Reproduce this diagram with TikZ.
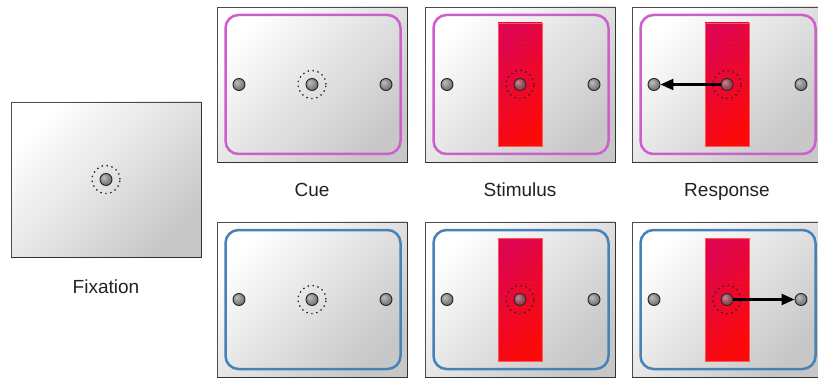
\documentclass[tikz,border=0pt]{standalone}
\usepackage{fontspec}
\setmainfont{Liberation Sans}
\usetikzlibrary{arrows.meta}
\definecolor{cueA}{HTML}{CC5FCC}
\definecolor{cueB}{HTML}{4682B6}
\definecolor{barTL}{HTML}{E2064F}
\definecolor{barBR}{HTML}{FF0A0A}
\definecolor{txt}{HTML}{222222}
\definecolor{dotredA}{HTML}{C88A96}
\definecolor{dotredB}{HTML}{9C4E5E}
\definecolor{dotredC}{HTML}{7A3444}
% flat grey target disc, lit from the upper left
\pgfdeclareradialshading{flatdot}{\pgfpoint{-10bp}{10bp}}{%
  color(0bp)=(black!25); color(18bp)=(black!45); color(35bp)=(black!62); color(60bp)=(black!70)}
\pgfdeclareradialshading{flatdotred}{\pgfpoint{-10bp}{10bp}}{%
  color(0bp)=(dotredA); color(18bp)=(dotredB); color(35bp)=(dotredC); color(60bp)=(dotredC)}
\tikzset{
  screen/.style={rectangle, minimum width=190pt, minimum height=155pt, inner sep=0pt,
    top color=white, bottom color=black!22, shading angle=45, draw=black!70, line width=0.8pt},
  frame/.style={rectangle, minimum width=175pt, minimum height=139pt, inner sep=0pt,
    rounded corners=13pt, line width=2.5pt},
  target/.style={circle, minimum size=12pt, inner sep=0pt, shading=flatdot,
    draw=black!85, line width=0.9pt},
  fixdot/.style={target},
  fixdotred/.style={target, shading=flatdotred},
  ring/.style={line width=1.3pt, dash pattern=on 1.4pt off 3.6pt, black!85},
  stimbar/.style={rectangle, minimum width=44pt, minimum height=123pt, inner sep=0pt,
    top color=barTL, bottom color=barBR, shading angle=45, draw=red!55!pink, line width=0.8pt},
  caption/.style={font=\fontsize{19}{23}\selectfont, text=txt, anchor=base},
  resp/.style={line width=2.2pt, -{Triangle[length=13pt,width=11pt]}},
}
\begin{document}
\begin{tikzpicture}[x=1pt, y=-1pt]
\useasboundingbox (0,0) rectangle (818,379);
\clip (0,0) rectangle (818,379);

% ---- fixation screen ----
\node[screen] (fx) at (106,179.5) {};
\draw[black!80, line width=1.2pt] (fx.south west) -- (fx.south east) -- (fx.north east);
\node[fixdot] (fxc) at (fx.center) {};
\draw[ring] (fxc) circle (14pt);
\node[caption] (fxl) at (106,293) {Fixation};

% ---- cue, stimulus, response screens (two rows) ----
\foreach \row/\cy/\col in {t/84.5/cueA, b/299.5/cueB}{
  \foreach \k/\cx in {1/312, 2/520, 3/727}{
    \node[screen] (s\k\row) at (\cx,\cy) {};
    \draw[black!80, line width=1.2pt] (s\k\row.south west) -- (s\k\row.south east) -- (s\k\row.north east);
    \node[frame, draw=\col] (f\k\row) at (\cx+1,\cy) {};
    \node[target] (l\k\row) at (\cx-73,\cy) {};
    \node[target] (r\k\row) at (\cx+74,\cy) {};
  }
  % cue: fixation point alone
  \node[fixdot] (c1\row) at (s1\row.center) {};
  \draw[ring] (c1\row) circle (14pt);
  % stimulus and response: vertical bar behind the fixation point
  \foreach \k in {2,3}{
    \node[stimbar] (bar\k\row) at (s\k\row.center) {};
    \foreach \yy in {-59,-56.5,...,60}
      \draw[black, opacity=0.03, line width=0.6pt]
        ([yshift=-\yy pt]bar\k\row.west) -- ([yshift=-\yy pt]bar\k\row.east);
    \node[fixdotred] (c\k\row) at (s\k\row.center) {};
    \draw[ring] (c\k\row) circle (14pt);
  }
}

% ---- responses ----
\draw[resp] (c3t) -- (l3t);
\draw[resp] (c3b) -- (r3b);

% ---- captions ----
\node[caption] (lc) at (312,197) {Cue};
\node[caption] (ls) at (520,197) {Stimulus};
\node[caption] (lr) at (727,197) {Response};
\end{tikzpicture}
\end{document}
